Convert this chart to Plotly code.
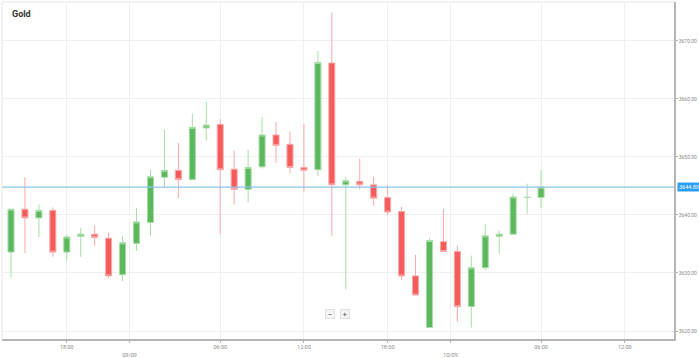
import plotly.graph_objects as go

# ---- data (hourly Gold candles) ----
opens  = [3633.6, 3641.0, 3639.5, 3640.8, 3633.6, 3636.3, 3636.7, 3636.0, 3629.7, 3635.1,
          3638.7, 3646.5, 3647.7, 3646.1, 3655.0, 3655.6, 3647.9, 3644.4, 3648.3, 3653.8,
          3652.2, 3648.2, 3647.8, 3666.2, 3645.2, 3645.8, 3645.2, 3643.0, 3640.6, 3629.5,
          3620.6, 3635.4, 3633.7, 3624.2, 3630.9, 3636.3, 3636.7, 3643.0, 3643.0]
highs  = [3641.0, 3646.5, 3641.8, 3641.3, 3636.7, 3637.8, 3638.2, 3637.0, 3636.4, 3641.2,
          3647.8, 3654.7, 3652.4, 3657.4, 3659.5, 3656.5, 3651.1, 3651.2, 3656.9, 3656.0,
          3654.4, 3655.7, 3668.3, 3674.9, 3646.6, 3649.7, 3646.6, 3645.2, 3641.4, 3633.1,
          3636.0, 3641.0, 3634.7, 3633.0, 3638.4, 3637.3, 3643.7, 3645.4, 3647.8]
lows   = [3629.1, 3633.4, 3636.2, 3632.8, 3632.1, 3632.8, 3634.7, 3629.1, 3628.6, 3633.8,
          3636.4, 3644.9, 3642.9, 3646.1, 3652.8, 3636.7, 3641.8, 3642.2, 3648.0, 3649.0,
          3647.2, 3644.0, 3646.7, 3636.4, 3627.2, 3644.4, 3641.6, 3640.0, 3628.8, 3626.2,
          3620.6, 3633.7, 3621.6, 3620.6, 3630.5, 3633.3, 3636.7, 3640.2, 3641.2]
closes = [3641.0, 3639.5, 3640.8, 3633.6, 3636.2, 3636.7, 3636.1, 3629.5, 3635.2, 3638.8,
          3646.6, 3647.7, 3646.1, 3655.1, 3655.5, 3647.8, 3644.4, 3648.2, 3653.8, 3652.0,
          3648.2, 3647.7, 3666.3, 3645.2, 3645.9, 3645.2, 3642.9, 3640.5, 3629.5, 3626.2,
          3635.6, 3633.7, 3624.2, 3630.9, 3636.4, 3636.7, 3643.1, 3643.05, 3644.8]
candle_idx = list(range(len(opens)))

x_tick_pos    = [4, 8.5, 15, 21, 27, 31.5, 38, 44]
x_tick_labels = ["18:00", "<br>09/09", "06:00", "12:00", "18:00", "<br>10/09", "06:00", "12:00"]
y_tick_vals   = [3620, 3630, 3640, 3650, 3660, 3670]
current_price = closes[-1]

GREEN = "#5cb85c"
RED = "#f45b5b"

fig = go.Figure()
fig.add_trace(go.Candlestick(
    x=candle_idx, open=opens, high=highs, low=lows, close=closes,
    increasing=dict(line=dict(color="#a9dca9", width=1), fillcolor=GREEN),
    decreasing=dict(line=dict(color="#f9a9a9", width=1), fillcolor=RED),
    whiskerwidth=0, hoverinfo="skip", showlegend=False,
))

# current price line
fig.add_shape(type="line", xref="paper", x0=0, x1=1, yref="y",
              y0=current_price, y1=current_price,
              line=dict(color="#8ec5ee", width=1.2), layer="above")
fig.add_annotation(xref="paper", x=1.004, xanchor="left", yref="y", y=current_price,
                   text=f"{current_price:.2f}", showarrow=False,
                   font=dict(size=5.5, color="white", family="Roboto"),
                   bgcolor="#2a9df4", borderpad=1)

# frame lines (top / left light)
fig.add_shape(type="line", xref="paper", yref="paper", x0=0, x1=1, y0=1, y1=1,
              line=dict(color="#e6e6e6", width=1))
fig.add_shape(type="line", xref="paper", yref="paper", x0=0, x1=0, y0=0, y1=1,
              line=dict(color="#e6e6e6", width=1))

# title
fig.add_annotation(xref="paper", yref="paper", x=0.012, y=0.985, xanchor="left", yanchor="top",
                   text="<b>Gold</b>", showarrow=False,
                   font=dict(size=9, color="#333333", family="Roboto"))

# zoom buttons
fig.add_annotation(xref="paper", yref="paper", x=0.488, y=0.058, text="−", showarrow=False,
                   font=dict(size=8, color="#555"), bgcolor="#f4f4f4", bordercolor="#e0e0e0",
                   borderwidth=1, borderpad=0, width=8, height=8)
fig.add_annotation(xref="paper", yref="paper", x=0.510, y=0.058, text="+", showarrow=False,
                   font=dict(size=8, color="#555"), bgcolor="#f4f4f4", bordercolor="#e0e0e0",
                   borderwidth=1, borderpad=0, width=8, height=8)

fig.update_layout(
    width=699, height=358,
    margin=dict(l=2, r=25, t=2, b=19, autoexpand=False),
    paper_bgcolor="white", plot_bgcolor="white",
    boxgap=0.38,
    font=dict(family="Roboto", color="#888888"),
    xaxis=dict(
        range=[-0.645, 47.53], rangeslider=dict(visible=False), automargin=False,
        tickmode="array", tickvals=x_tick_pos, ticktext=x_tick_labels,
        tickfont=dict(size=5.5, color="#8a8a8a"),
        showgrid=True, gridcolor="#f0f0f0", gridwidth=1,
        showline=True, linecolor="#b5b5b5", linewidth=1.5,
        ticks="outside", ticklen=2, tickcolor="#b5b5b5",
        zeroline=False, fixedrange=True,
    ),
    yaxis=dict(
        side="right", range=[3618.62, 3676.72], automargin=False,
        tickmode="array", tickvals=y_tick_vals, tickformat=".2f",
        tickfont=dict(size=5, color="#8a8a8a"),
        showgrid=True, gridcolor="#f0f0f0", gridwidth=1,
        showline=True, linecolor="#b5b5b5", linewidth=1.5,
        ticks="outside", ticklen=2, tickcolor="#b5b5b5",
        zeroline=False, fixedrange=True,
    ),
)

fig.write_html("out.html", config={"displayModeBar": False},
               post_script="document.body.style.margin='0';document.body.style.overflow='hidden';")
